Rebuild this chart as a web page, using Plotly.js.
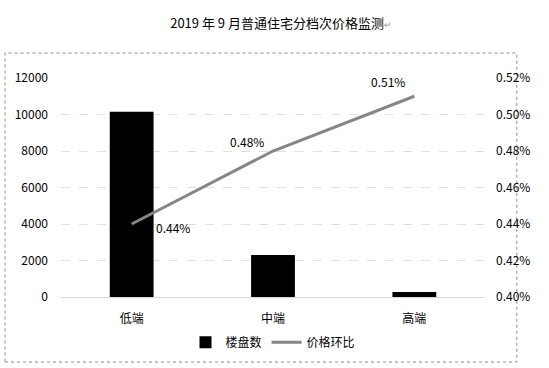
<!DOCTYPE html>
<html><head><meta charset="utf-8">
<script src="https://cdn.plot.ly/plotly-3.0.1.min.js"></script>
<style>body{margin:0;background:#fff}#c{width:549px;height:368px}</style>
</head><body><div id="c"></div>
<script>
const categories = ['低端', '中端', '高端'];
const buildingCounts = [10150, 2300, 280];
const priceChange = [0.0044, 0.0048, 0.0051];
const priceLabels = ['0.44%', '0.48%', '0.51%'];
const leftTicks = [0, 2000, 4000, 6000, 8000, 10000, 12000];
const rightTicks = [0.004, 0.0042, 0.0044, 0.0046, 0.0048, 0.005, 0.0052];
const labelShiftX = [41, -26, -26];
const labelShiftY = [-3, 10, 15];

const F = '"Noto Sans CJK SC", "Liberation Sans", sans-serif';
const traces = [
  {type:'bar', x:categories, y:buildingCounts, name:'楼盘数', marker:{color:'#000000'}, width:0.31, hoverinfo:'skip'},
  {type:'scatter', mode:'lines', x:categories, y:priceChange, yaxis:'y2', name:'价格环比',
   line:{color:'#868686', width:3}}
];
const layout = {
  width:549, height:368, margin:{l:61, r:64, t:78, b:71},
  paper_bgcolor:'#fff', plot_bgcolor:'#fff', font:{family:F, size:12, color:'#000'},
  title:{text:'2019 年 9 月普通住宅分档次价格监测<span style="color:#999;font-size:9px">↵</span>', x:0.512, xanchor:'center', yref:'container', y:0.935, yanchor:'middle', font:{size:13, color:'#000', family:F}},
  showlegend:true,
  legend:{orientation:'h', x:0.5, xanchor:'center', yref:'container', y:0.07, yanchor:'middle', font:{size:12, family:F}, tracegroupgap:0},
  bargap:0.69,
  xaxis:{type:'category', showgrid:false, showline:true, linecolor:'#d9d9d9', linewidth:1, ticks:'', tickfont:{size:12}, ticklabelstandoff:11},
  yaxis:{range:[0,12000], tickvals:leftTicks, ticktext:leftTicks.map(String), showgrid:true, gridcolor:'#e0e0e0', griddash:'dash', zeroline:false, showline:false, ticks:'', ticklabelstandoff:12},
  yaxis2:{range:[0.004,0.0052], overlaying:'y', side:'right', tickvals:rightTicks, ticktext:rightTicks.map(v=>(v*100).toFixed(2)+'%'), showgrid:false, zeroline:false, showline:false, ticks:'', ticklabelstandoff:10},
  annotations: priceLabels.map((t,i)=>({x:categories[i], y:priceChange[i], xref:'x', yref:'y2', text:t, showarrow:false, xshift:labelShiftX[i], yshift:labelShiftY[i], font:{size:12, color:'#000', family:F}})),
  shapes:[{type:'rect', xref:'paper', yref:'paper', x0:-0.132, x1:1.075, y0:-0.297, y1:1.114, line:{color:'#8c8c8c', width:1, dash:'dot'}, fillcolor:'rgba(0,0,0,0)', layer:'below'}]
};
Plotly.newPlot('c', traces, layout, {displayModeBar:false, staticPlot:true});
</script></body></html>
